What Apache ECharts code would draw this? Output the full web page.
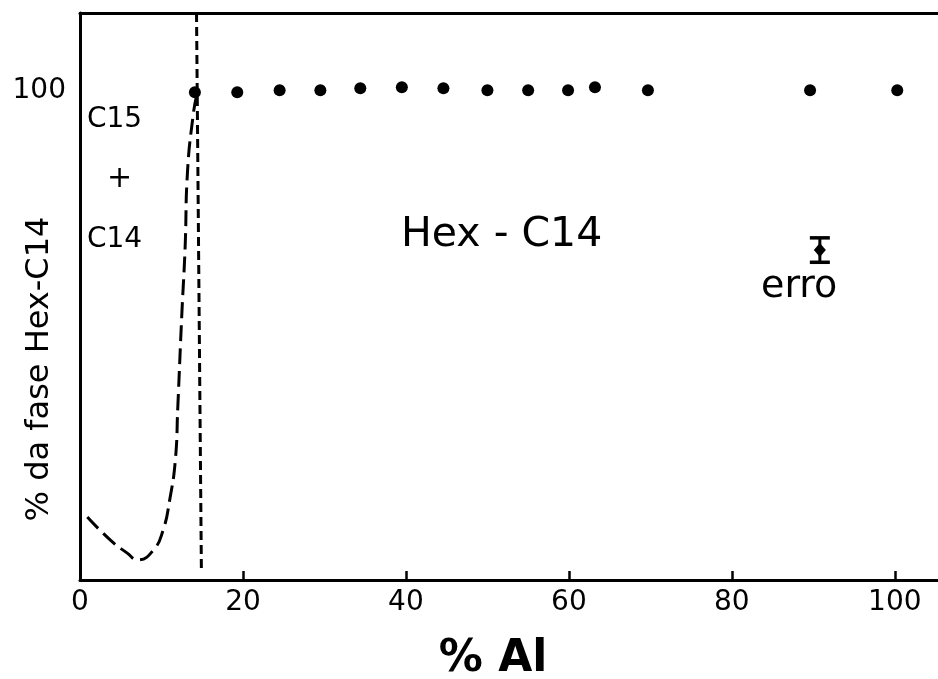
<!DOCTYPE html>
<html>
<head>
<meta charset="utf-8">
<script src="https://cdn.jsdelivr.net/npm/echarts@6/dist/echarts.min.js"></script>
<style>
  html, body { margin: 0; padding: 0; background: #fff; }
  #chart { width: 938px; height: 679px; }
</style>
</head>
<body>
<div id="chart"></div>
<script>
// pontos medidos (% Al, % fase Hex-C14)
const alPct = [14.1, 19.3, 24.5, 29.5, 34.4, 39.5, 44.6, 50, 55, 59.9, 63.2, 69.7, 89.6, 100.3]
const hexPct = [99.8, 99.8, 100.2, 100.2, 100.6, 100.8, 100.6, 100.2, 100.2, 100.2, 100.8, 100.2, 100.2, 100.2]

// curva tracejada (regiao C15 + C14)
const curveX = [0.9, 3.7, 5.8, 7.1, 9.0, 10.2, 11.0, 11.7, 12.0, 12.5, 12.9, 13.2, 13.9, 14.3]
const curveY = [12.9, 8.2, 5.5, 4.1, 6.1, 10.2, 16.3, 24.5, 35.3, 54.5, 68, 83.7, 95.3, 99]

// limite de fase (linha vertical)
const boundaryX = [14.3, 14.9]
const boundaryY = [116, 1.5]

// barra de erro
const errX = 90.8
const errLow = 65
const errMid = 67.5
const errHigh = 70

const xTicks = [0, 20, 40, 60, 80, 100]

const chart = echarts.init(document.getElementById('chart'))
const font = 'DejaVu Sans'

chart.setOption({
  animation: false,
  grid: { left: 80, right: 0, top: 13, bottom: 99, outerBoundsMode: 'none' },
  xAxis: [
    {
      type: 'value',
      min: 0,
      max: 105.3,
      interval: 20,
      splitLine: { show: false },
      axisLine: { lineStyle: { color: '#000', width: 3 } },
      axisTick: { inside: true, length: 9, lineStyle: { color: '#000', width: 2.5 } },
      axisLabel: {
        color: '#000', fontSize: 28, fontFamily: font, margin: 9,
        showMaxLabel: false,
        formatter: v => (xTicks.indexOf(v) >= 0 ? String(v) : '')
      }
    },
    {
      type: 'value',
      position: 'top',
      min: 0,
      max: 105.3,
      splitLine: { show: false },
      axisLine: { lineStyle: { color: '#000', width: 3 } },
      axisTick: { show: false },
      axisLabel: { show: false }
    }
  ],
  yAxis: {
    type: 'value',
    min: 0,
    max: 116,
    interval: 100,
    splitLine: { show: false },
    axisLine: { show: true, lineStyle: { color: '#000', width: 3 } },
    axisTick: { show: false },
    axisLabel: {
      color: '#000', fontSize: 28, fontFamily: font, margin: 14,
      showMaxLabel: false,
      formatter: v => (v === 100 ? '100' : '')
    }
  },
  series: [
    {
      type: 'scatter',
      data: alPct.map((x, i) => [x, hexPct[i]]),
      symbol: 'circle',
      symbolSize: 12,
      itemStyle: { color: '#000', opacity: 1 }
    },
    {
      type: 'line',
      data: curveX.map((x, i) => [x, curveY[i]]),
      smooth: 0.5,
      showSymbol: false,
      lineStyle: { color: '#000', width: 3, type: [16, 7] }
    },
    {
      type: 'line',
      data: boundaryX.map((x, i) => [x, boundaryY[i]]),
      showSymbol: false,
      lineStyle: { color: '#000', width: 3, type: [9, 5] }
    },
    {
      type: 'line',
      data: [[errX, errLow], [errX, errHigh]],
      showSymbol: false,
      lineStyle: { color: '#000', width: 3 }
    },
    {
      type: 'scatter',
      data: [[errX, errLow], [errX, errHigh]],
      symbol: 'rect',
      symbolSize: [20, 3.5],
      itemStyle: { color: '#000', opacity: 1 }
    },
    {
      type: 'scatter',
      data: [[errX, errMid]],
      symbol: 'diamond',
      symbolSize: [12, 14],
      itemStyle: { color: '#000', opacity: 1 }
    }
  ],
  graphic: [
    {
      type: 'text', left: 87, top: 106,
      style: { text: 'C15', fontSize: 28, fontFamily: font, fill: '#000' }
    },
    {
      type: 'text', left: 107, top: 164,
      style: { text: '+', fontSize: 30, fontFamily: font, fill: '#000' }
    },
    {
      type: 'text', left: 87, top: 226,
      style: { text: 'C14', fontSize: 28, fontFamily: font, fill: '#000' }
    },
    {
      type: 'text', left: 401, top: 215,
      style: { text: 'Hex - C14', fontSize: 41, fontFamily: font, fill: '#000' }
    },
    {
      type: 'text', left: 761, top: 268,
      style: { text: 'erro', fontSize: 38, fontFamily: font, fill: '#000' }
    },
    {
      type: 'text', x: 40, y: 369, rotation: Math.PI / 2,
      style: {
        text: '% da fase Hex-C14', fontSize: 32, fontFamily: font, fill: '#000',
        align: 'center', verticalAlign: 'middle'
      }
    },
    {
      type: 'text', x: 493, y: 660,
      style: {
        text: '% Al', fontSize: 44, fontWeight: 'bold', fontFamily: font, fill: '#000',
        align: 'center', verticalAlign: 'middle'
      }
    }
  ]
})
</script>
</body>
</html>
